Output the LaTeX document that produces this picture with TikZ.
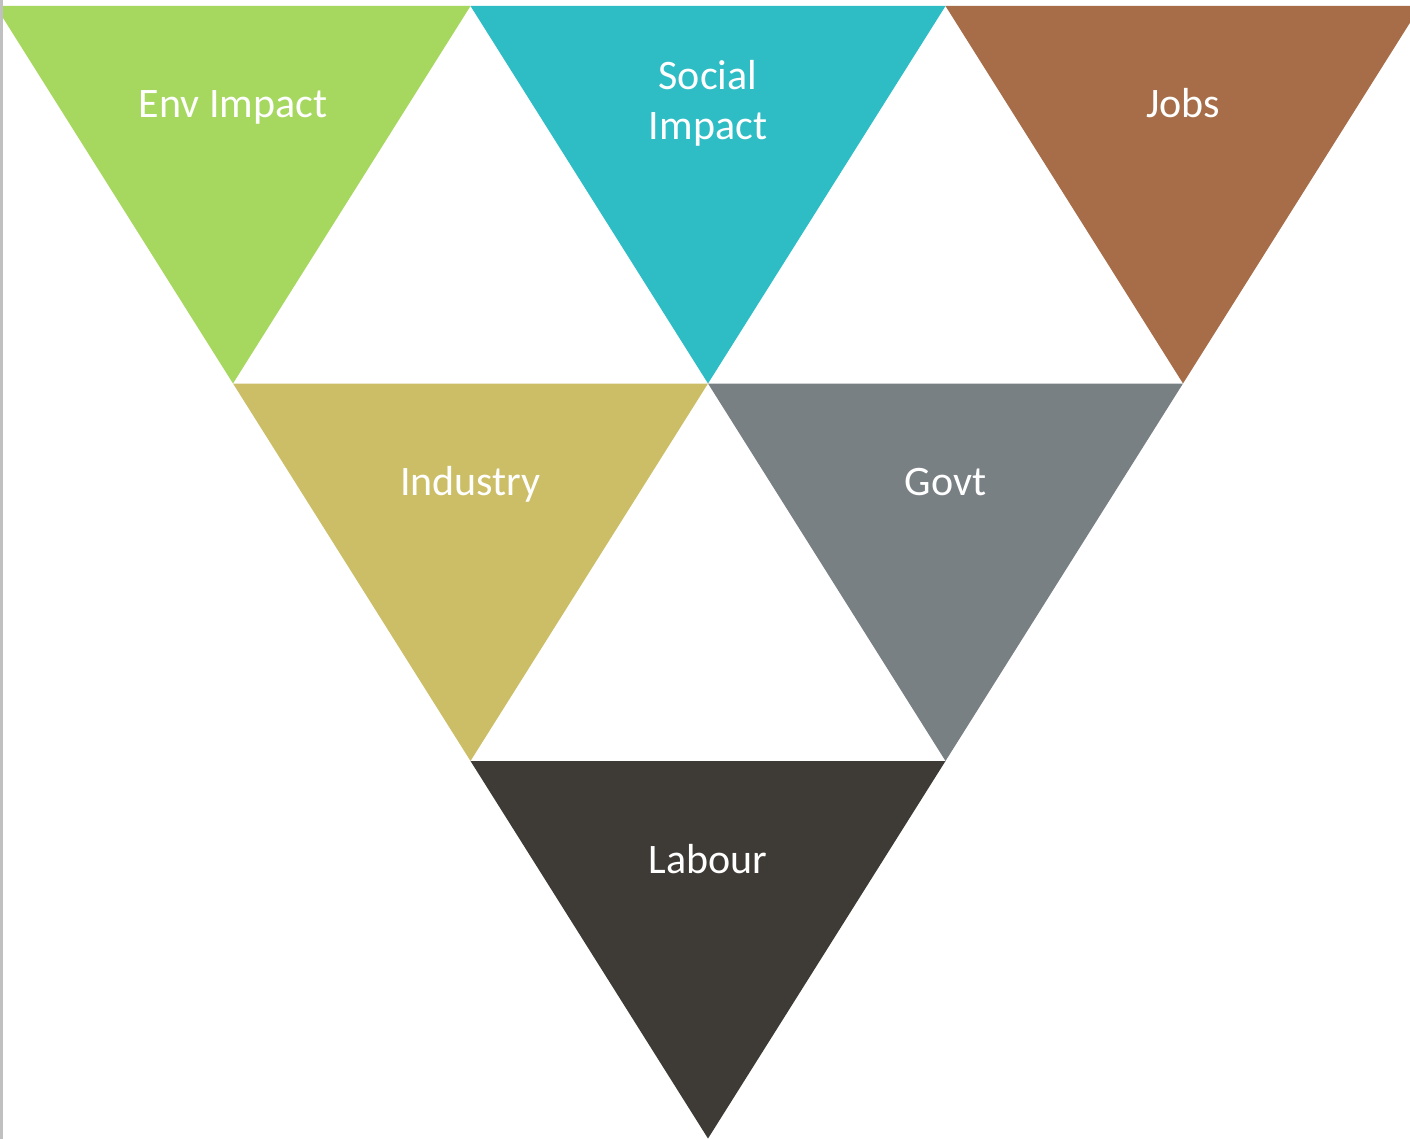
\documentclass[tikz,border=0pt]{standalone}
\usepackage{fontspec}
\setmainfont{Carlito}
\definecolor{cgreen}{HTML}{A6D75F}
\definecolor{ccyan}{HTML}{2EBDC5}
\definecolor{cbrown}{HTML}{A66D48}
\definecolor{colive}{HTML}{CCBE66}
\definecolor{cgray}{HTML}{788083}
\definecolor{cdark}{HTML}{3E3A35}
\definecolor{cedge}{HTML}{C0C0C0}
\begin{document}
\begin{tikzpicture}[x=1pt,y=-1pt,
  lbl/.style={text=white,font=\fontsize{42}{50}\selectfont,align=center,inner sep=0pt,anchor=base}]
\useasboundingbox (0,0) rectangle (1410,1139);
\begin{scope}
\clip (0,0) rectangle (1410,1139);
\fill[white] (0,0) rectangle (1410,1139);
\fill[cgreen] (-4.5,6) -- (470.5,6) -- (233,383.5) -- cycle;
\fill[ccyan] (470.5,6) -- (945.5,6) -- (708,383.5) -- cycle;
\fill[cbrown] (945.5,6) -- (1420.5,6) -- (1183,383.5) -- cycle;
\fill[colive] (233,383.5) -- (708,383.5) -- (470.5,761) -- cycle;
\fill[cgray] (708,383.5) -- (1183,383.5) -- (945.5,761) -- cycle;
\fill[cdark] (470.5,761) -- (945.5,761) -- (708,1138.5) -- cycle;
\fill[cedge] (0,0) rectangle (3,1139);
\end{scope}
\node[lbl] (env) at (233,118) {Env Impact};
\node[lbl] (soc) at (708,140) {Social\\Impact};
\node[lbl] (jobs) at (1183,118) {Jobs};
\node[lbl] (ind) at (470.5,495) {Industry};
\node[lbl] (gov) at (945.5,495) {Govt};
\node[lbl] (lab) at (708,873) {Labour};
\end{tikzpicture}
\end{document}
